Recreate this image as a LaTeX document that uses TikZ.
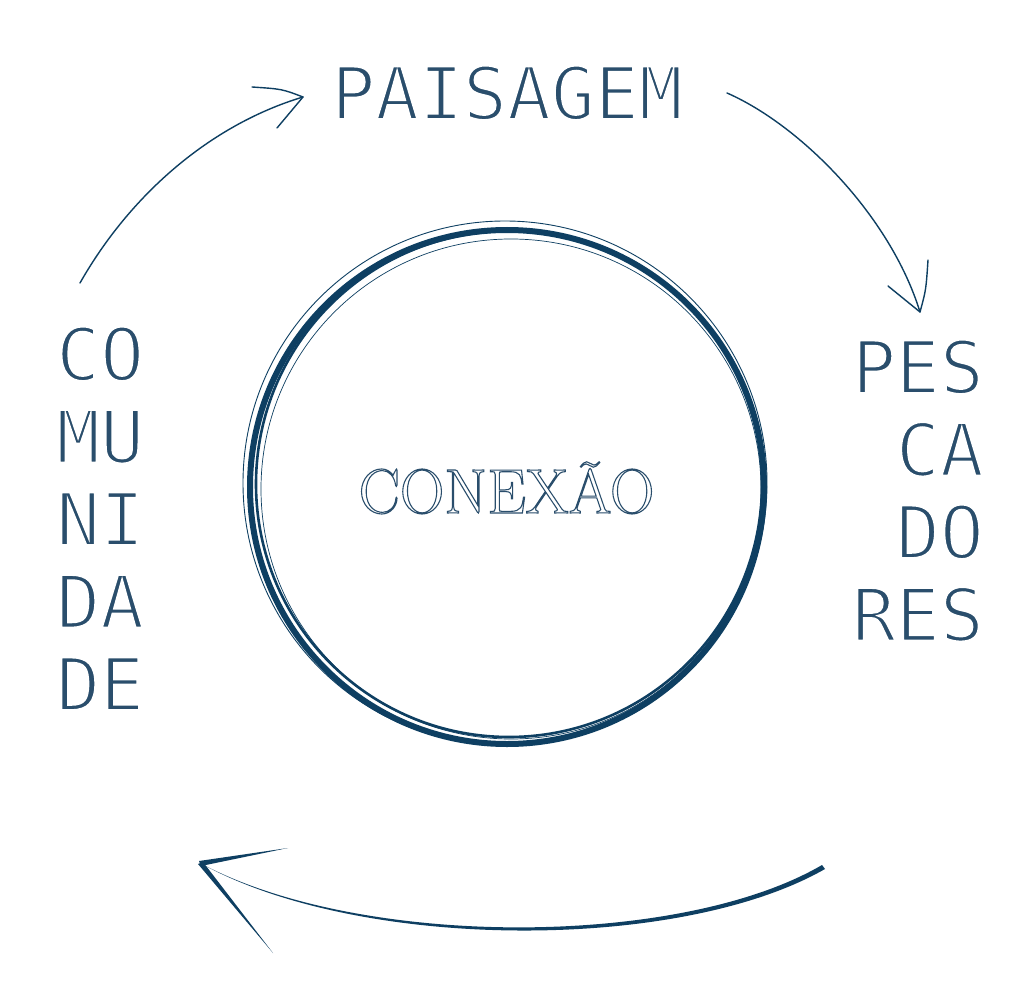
\documentclass[tikz,border=0pt]{standalone}
\usepackage{fontspec}
\newfontfamily\labelfont{DejaVu Sans Mono}
\definecolor{navy}{HTML}{0E3F62}
\definecolor{slate}{HTML}{2A4E6C}
% hollow letters: stroke the glyph outlines only
\newcommand{\hollow}[1]{\special{pdf:literal direct 1 Tr 1.1 w}#1\special{pdf:literal direct 0 Tr}}
% light letters: fill, then trim the edges with a white stroke
\newcommand{\light}[1]{\special{pdf:literal direct 2 Tr 2.6 w 1 1 1 RG}#1\special{pdf:literal direct 0 Tr}}

\begin{document}
\begin{tikzpicture}[x=1pt,y=-1pt,
  word/.style={inner sep=0pt, text=slate, font=\labelfont\fontsize{73}{82.5}\selectfont},
  pen/.style={navy, line width=1.4, line cap=round, line join=round}]
  \fill[white] (0,0) rectangle (1020,992);
  \useasboundingbox (0,0) rectangle (1020,992);

  % the three words round the ring
  \node[word, anchor=north] (paisagem) at (507,65) {\light{PAISAGEM}};
  \node[word, anchor=north west, align=left] (comunidade) at (56,326)
    {\light{CO}\\\light{MU}\\\light{NI}\\\light{DA}\\\light{DE}};
  \node[word, anchor=north east, align=right] (pescadores) at (984,339)
    {\light{PES}\\\light{CA}\\\light{DO}\\\light{RES}};

  % hand drawn ring
  \draw[navy, line width=6] (507,487) circle[radius=257];
  \draw[navy, line width=2.6] (509,484) circle[radius=253];
  \draw[navy, line width=0.9] (505,483) circle[radius=262];
  \draw[navy, line width=0.7] (511,489) circle[radius=250];

  \node[anchor=base, inner sep=0pt, text=slate, font=\fontsize{63}{63}\selectfont] (conexao)
    at (506.5,513) {\scalebox{0.98}[1]{\hollow{CONEXÃO}}};

  % arrow ends
  \coordinate (c-out) at (80,283);
  \coordinate (p-in) at (303,97);
  \coordinate (p-out) at (727,93);
  \coordinate (s-in) at (920,312);
  \coordinate (s-out) at (822,865);
  \coordinate (c-in) at (200,863);

  % top left: comunidade -> paisagem
  \draw[pen] (c-out) .. controls (130,195) and (210,125) .. (p-in);
  \draw[pen] (252,87) .. controls (282,89) .. (p-in) -- (277,128);

  % top right: paisagem -> pescadores
  \draw[pen] (p-out) .. controls (800,125) and (890,215) .. (s-in);
  \draw[pen] (888,286) -- (s-in) .. controls (926,290) .. (928,260);

  % bottom: pescadores -> comunidade (brush stroke)
  \fill[navy] (s-out) .. controls (680,948) and (360,949) .. (c-in)
    .. controls (360,952) and (680,952) .. (825,869) -- cycle;
  \fill[navy] (199,861) -- (288,848) -- (201,866) -- cycle;
  \fill[navy] (198,864) -- (273,953) -- (203,862) -- cycle;
\end{tikzpicture}
\end{document}
